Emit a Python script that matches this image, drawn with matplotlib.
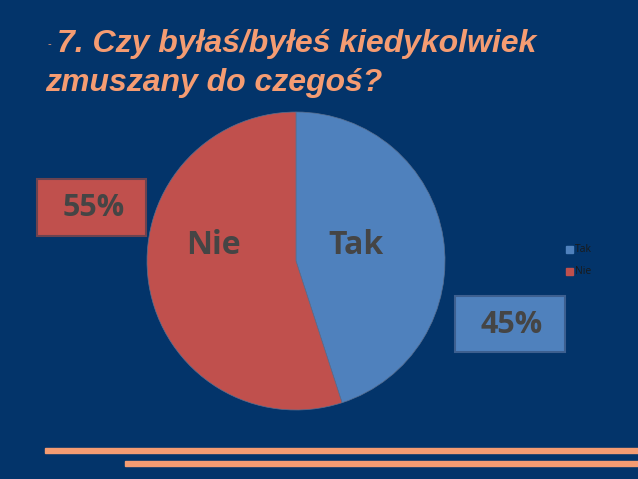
import matplotlib.pyplot as plt
from matplotlib.patches import Rectangle

# dane z wykresu
labels = ['Tak', 'Nie']
values = [45, 55]
colors = ['#4F81BD', '#C0504D']
percent_labels = ['45%', '55%']

bg = '#03346A'
orange = '#F59C72'
grey = '#454545'

fig = plt.figure(figsize=(6.38, 4.79), dpi=100)
fig.patch.set_facecolor(bg)

# wykres kolowy
cx, cy, r = 296, 261, 149
pie_ax = fig.add_axes([(cx - r) / 638, (479 - cy - r) / 479, 2 * r / 638, 2 * r / 479])
pie_ax.pie(values, colors=colors, startangle=90, counterclock=False, radius=1,
           wedgeprops={'linewidth': 0.5, 'edgecolor': '#5a6f8f'})
pie_ax.set_xlim(-1, 1)
pie_ax.set_ylim(-1, 1)
pie_ax.axis('off')

# nakladka w pikselach (y w dol)
base = fig.add_axes([0, 0, 1, 1])
base.set_xlim(0, 638)
base.set_ylim(479, 0)
base.axis('off')

# pasy na dole
base.add_patch(Rectangle((45, 448), 600, 5, color=orange))
base.add_patch(Rectangle((125, 461), 520, 5, color=orange))

# tytul
base.text(47, 44, '-', color=orange, fontsize=8, va='center', family='Liberation Sans')
base.text(57, 44, '7. Czy byłaś/byłeś kiedykolwiek', color=orange, fontsize=23,
          fontweight='bold', style='italic', va='center', family='Liberation Sans')
base.text(45, 83, 'zmuszany do czegoś?', color=orange, fontsize=23,
          fontweight='bold', style='italic', va='center', family='Liberation Sans')

# etykiety na wycinkach
base.text(356, 245, labels[0], color=grey, fontsize=23, fontweight='bold',
          ha='center', va='center', family='Open Sans')
base.text(213, 245, labels[1], color=grey, fontsize=23, fontweight='bold',
          ha='center', va='center', family='Open Sans')

# ramki z procentami
boxes = [(455, 296, 110, 56), (37, 179, 109, 57)]
edges = ['#3d5f8f', '#6b4350']
for (x, y, w, h), col, ec, txt in zip(boxes, colors, edges, percent_labels):
    base.add_patch(Rectangle((x, y), w, h, facecolor=col, edgecolor=ec, linewidth=1.5))
    base.text(x + w / 2 + 2, y + h / 2 + 1, txt, color=grey, fontsize=22, fontweight='bold',
              ha='center', va='center', family='Open Sans')

# legenda
for i, (lab, col) in enumerate(zip(labels, colors)):
    y = 249 + i * 22
    base.add_patch(Rectangle((566, y - 3.5), 7, 7, color=col))
    base.text(575, y, lab, color='#1a1a1a', fontsize=7.5, va='center', family='Open Sans')

fig.savefig('out.png', dpi=100, facecolor=bg)
